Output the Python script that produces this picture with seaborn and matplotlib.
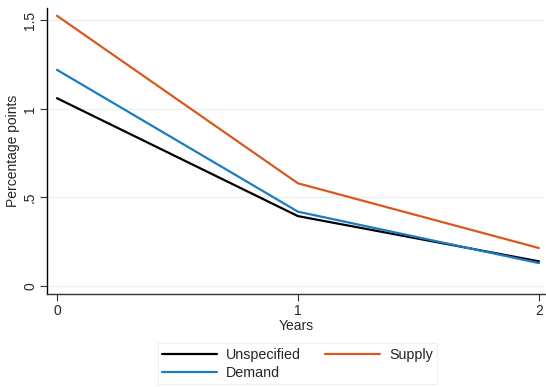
import matplotlib
matplotlib.use("Agg")
import matplotlib.pyplot as plt
import seaborn as sns
import pandas as pd

years = [0, 1, 2]
unspecified = [1.06, 0.395, 0.14]
demand = [1.22, 0.42, 0.13]
supply = [1.525, 0.58, 0.215]
series_names = ["Unspecified", "Demand", "Supply"]
colors = ["#000000", "#1a7dc0", "#d9581f"]
yticks = [0, 0.5, 1, 1.5]
yticklabels = ["0", ".5", "1", "1.5"]

df = pd.DataFrame({
    "Years": years * 3,
    "value": unspecified + demand + supply,
    "series": [series_names[0]] * 3 + [series_names[1]] * 3 + [series_names[2]] * 3,
})

sns.set_style("white")
plt.rcParams["font.family"] = ["Liberation Sans", "DejaVu Sans"]

fig = plt.figure(figsize=(5.46, 3.87), dpi=100)
ax = fig.add_axes([0.086, 0.240, 0.912, 0.739])
sns.lineplot(data=df, x="Years", y="value", hue="series", hue_order=series_names,
             palette=colors, linewidth=1.6, ax=ax, legend=False)

ax.set_xlim(-0.0415, 2.025)
ax.set_ylim(-0.045, 1.568)
ax.set_xticks(years)
ax.set_xticklabels([str(y) for y in years])
ax.set_yticks(yticks)
ax.set_yticklabels(yticklabels, rotation=90, va="center")
for y in yticks:
    ax.axhline(y, color="#e8eff2", linewidth=0.8, zorder=0)
ax.tick_params(axis="both", direction="out", length=5, width=0.8, color="#333333",
               labelsize=10, pad=2, bottom=True, left=True)
ax.set_xlabel("Years", fontsize=10, labelpad=1)
ax.set_ylabel("Percentage points", fontsize=10, labelpad=2)
for s in ["top", "right"]:
    ax.spines[s].set_visible(False)
ax.spines["left"].set_color("#000000")
ax.spines["bottom"].set_color("#333333")
ax.spines["left"].set_linewidth(1.0)
ax.spines["bottom"].set_linewidth(1.0)

handles = [plt.Line2D([], [], color=c, linewidth=1.6) for c in colors]
leg = fig.legend(handles, series_names, ncol=2, loc="upper center",
                 bbox_to_anchor=(0.545, 0.131), frameon=True, fancybox=False,
                 fontsize=10.3, handlelength=3.8, columnspacing=1.7,
                 labelspacing=0.3, borderpad=0.3, handletextpad=0.65)
leg.get_frame().set_edgecolor("#e8eef0")
leg.get_frame().set_linewidth(0.8)

fig.savefig("out.png", dpi=100, facecolor="white")
